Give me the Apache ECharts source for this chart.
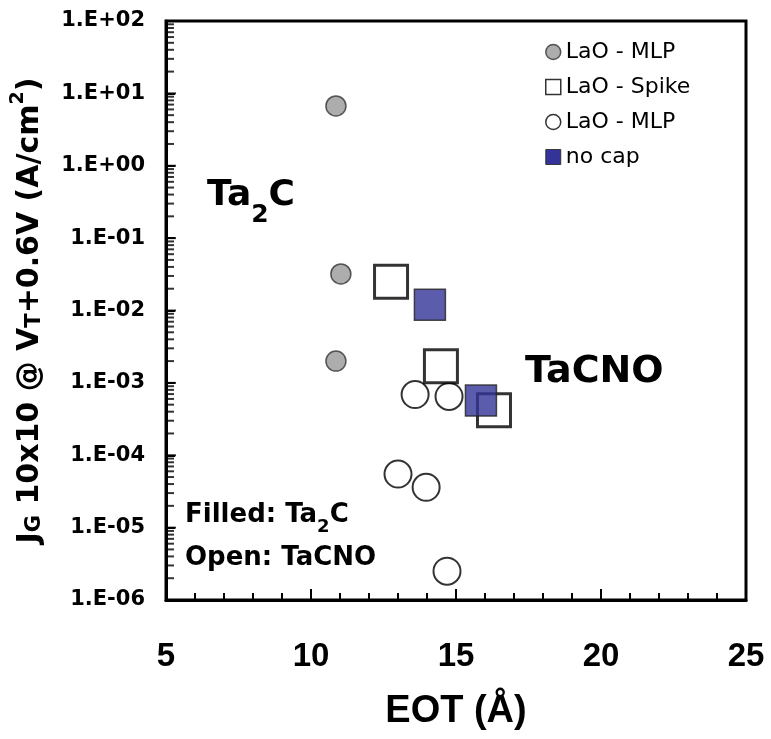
<!DOCTYPE html>
<html>
<head>
<meta charset="utf-8">
<script src="https://cdn.jsdelivr.net/npm/echarts@6/dist/echarts.min.js"></script>
<style>
    html, body { margin: 0; padding: 0; background: #fff; }
    #chart { width: 771px; height: 739px; }
</style>
</head>
<body>
<div id="chart"></div>
<script>
/* 数据：EOT (Å) 与 JG (A/cm2) */
const ta2cMlpX = [10.86, 11.03, 10.86];
const ta2cMlpY = [6.7, 0.032, 0.0020];
const spikeX = [12.76, 14.48, 16.31];
const spikeY = [0.025, 0.0017, 0.00042];
const tacnoMlpX = [13.59, 14.76, 13.0, 13.97, 14.69];
const tacnoMlpY = [6.9e-4, 6.5e-4, 5.5e-5, 3.6e-5, 2.5e-6];
const noCapX = [14.1, 15.86];
const noCapY = [0.012, 5.7e-4];

// 刻度
const xTicks = [5, 10, 15, 20, 25];
const yMajorTicks = [1e-6, 1e-5, 1e-4, 1e-3, 1e-2, 1e-1, 1e0, 1e1, 1e2];
const yMinorMult = [2, 3, 4, 5, 6, 7, 8, 9];

// Y轴刻度线位置（画在 x=5 的左边框上）
let yMajorData = yMajorTicks.map(v => [5, v]);
let yMinorData = [];
yMajorTicks.slice(0, -1).forEach(function (v) {
    yMinorMult.forEach(function (k) {
        yMinorData.push([5, k * v]);
    });
});

const zip = (xs, ys) => xs.map((x, i) => [x, ys[i]]);

const bold = 'DejaVu Sans';
const arial = 'Liberation Sans';

var chart = echarts.init(document.getElementById('chart'));
var option = {
    animation: false,
    backgroundColor: '#fff',
    grid: {
        left: 166,
        right: 25,
        top: 21,
        bottom: 139,
        show: true,
        borderColor: '#000',
        borderWidth: 3
    },
    legend: {
        orient: 'vertical',
        left: 540,
        top: 36,
        itemGap: 13,
        itemWidth: 15,
        itemHeight: 15,
        textStyle: { fontFamily: bold, fontSize: 22, color: '#000' },
        data: [
            { name: 'LaO - MLP', itemStyle: { borderWidth: 1.5 } },
            { name: 'LaO - Spike', itemStyle: { borderWidth: 1.5 } },
            { name: 'LaO - MLP ', itemStyle: { borderWidth: 1.5 } },
            { name: 'no cap', itemStyle: { color: '#000080', borderWidth: 1 } }
        ]
    },
    xAxis: {
        type: 'value',
        min: 5,
        max: 25,
        interval: 5,
        splitLine: { show: false },
        axisLine: { show: true, onZero: false, lineStyle: { color: '#000', width: 3 } },
        axisTick: { show: true, inside: true, length: 11, lineStyle: { color: '#000', width: 2 } },
        minorTick: { show: true, splitNumber: 5, length: 7, lineStyle: { color: '#000', width: 2 } },
        axisLabel: {
            margin: 40,
            fontFamily: arial,
            fontWeight: 'bold',
            fontSize: 33,
            color: '#000',
            customValues: xTicks
        },
        name: 'EOT (Å)',
        nameLocation: 'middle',
        nameGap: 93,
        nameTextStyle: { fontFamily: arial, fontWeight: 'bold', fontSize: 38, color: '#000' }
    },
    yAxis: {
        type: 'log',
        min: 1e-6,
        max: 1e2,
        interval: 1,
        splitLine: { show: false },
        axisLine: { show: true, onZero: false, lineStyle: { color: '#000', width: 3 } },
        axisTick: { show: true, inside: true, length: 9, lineStyle: { color: '#000', width: 2 } },
        axisLabel: {
            margin: 21,
            fontFamily: bold,
            fontWeight: 'bold',
            fontSize: 21,
            color: '#000',
            formatter: function (v) {
                let e = Math.round(Math.log10(v));
                let s = Math.abs(e) < 10 ? '0' + Math.abs(e) : '' + Math.abs(e);
                return '1.E' + (e < 0 ? '-' : '+') + s;
            }
        },
        name: '{m|J}{s|G}{m| 10x10 @ V}{s|T}{m|+0.6V (A/cm}{p|2}{m|)}',
        nameLocation: 'middle',
        nameRotate: 90,
        nameGap: 121,
        nameTextStyle: {
            color: '#000',
            rich: {
                m: { fontFamily: bold, fontWeight: 'bold', fontSize: 30, lineHeight: 36, verticalAlign: 'bottom', color: '#000' },
                s: { fontFamily: bold, fontWeight: 'bold', fontSize: 21, lineHeight: 36, verticalAlign: 'bottom', color: '#000' },
                p: { fontFamily: bold, fontWeight: 'bold', fontSize: 19, lineHeight: 36, verticalAlign: 'top', color: '#000' }
            }
        }
    },
    series: [
        {
            // Y轴主刻度
            name: 'yMajorTicks',
            type: 'scatter',
            symbol: 'rect',
            symbolSize: [10, 2],
            symbolOffset: [5, 0],
            clip: false,
            silent: true,
            itemStyle: { color: '#000' },
            emphasis: { disabled: true },
            z: 6,
            data: yMajorData
        },
        {
            // Y轴次刻度
            name: 'yMinorTicks',
            type: 'scatter',
            symbol: 'rect',
            symbolSize: [8, 2],
            symbolOffset: [4, 0],
            clip: false,
            silent: true,
            itemStyle: { color: '#000' },
            emphasis: { disabled: true },
            z: 6,
            data: yMinorData
        },
        {
            name: 'LaO - MLP',
            type: 'scatter',
            symbol: 'circle',
            symbolSize: 20,
            itemStyle: { color: '#999999', borderColor: '#333', borderWidth: 1.5 },
            emphasis: { disabled: true },
            z: 2,
            data: zip(ta2cMlpX, ta2cMlpY)
        },
        {
            name: 'LaO - Spike',
            type: 'scatter',
            symbol: 'rect',
            symbolSize: 33,
            itemStyle: { color: '#fff', borderColor: '#000', borderWidth: 3 },
            emphasis: { disabled: true },
            z: 4,
            data: zip(spikeX, spikeY)
        },
        {
            name: 'LaO - MLP ',
            type: 'scatter',
            symbol: 'circle',
            symbolSize: 27,
            itemStyle: { color: '#fff', borderColor: '#000', borderWidth: 2 },
            emphasis: { disabled: true },
            z: 3,
            data: zip(tacnoMlpX, tacnoMlpY)
        },
        {
            name: 'no cap',
            type: 'scatter',
            symbol: 'rect',
            symbolSize: 31,
            itemStyle: { color: '#333399', borderColor: '#222', borderWidth: 1.5 },
            emphasis: { disabled: true },
            z: 5,
            data: zip(noCapX, noCapY)
        }
    ],
    graphic: [
        {
            type: 'text',
            left: 207,
            top: 178,
            style: {
                text: '{a|Ta}{s|2}{a|C}',
                rich: {
                    a: { fontFamily: bold, fontWeight: 'bold', fontSize: 36, lineHeight: 40, verticalAlign: 'top', fill: '#000' },
                    s: { fontFamily: bold, fontWeight: 'bold', fontSize: 25, lineHeight: 50, verticalAlign: 'bottom', fill: '#000' }
                }
            }
        },
        {
            type: 'text',
            left: 525,
            top: 353,
            style: { text: 'TaCNO', fontFamily: bold, fontWeight: 'bold', fontSize: 38, fill: '#000' }
        },
        {
            type: 'text',
            left: 185,
            top: 502,
            style: {
                text: '{a|Filled: Ta}{s|2}{a|C}',
                rich: {
                    a: { fontFamily: bold, fontWeight: 'bold', fontSize: 26, lineHeight: 30, verticalAlign: 'top', fill: '#000' },
                    s: { fontFamily: bold, fontWeight: 'bold', fontSize: 18, lineHeight: 34, verticalAlign: 'bottom', fill: '#000' }
                }
            }
        },
        {
            type: 'text',
            left: 185,
            top: 545,
            style: { text: 'Open: TaCNO', fontFamily: bold, fontWeight: 'bold', fontSize: 26, fill: '#000' }
        }
    ]
};
chart.setOption(option);

window.addEventListener('resize', function () {
    chart.resize();
});
</script>
</body>
</html>
